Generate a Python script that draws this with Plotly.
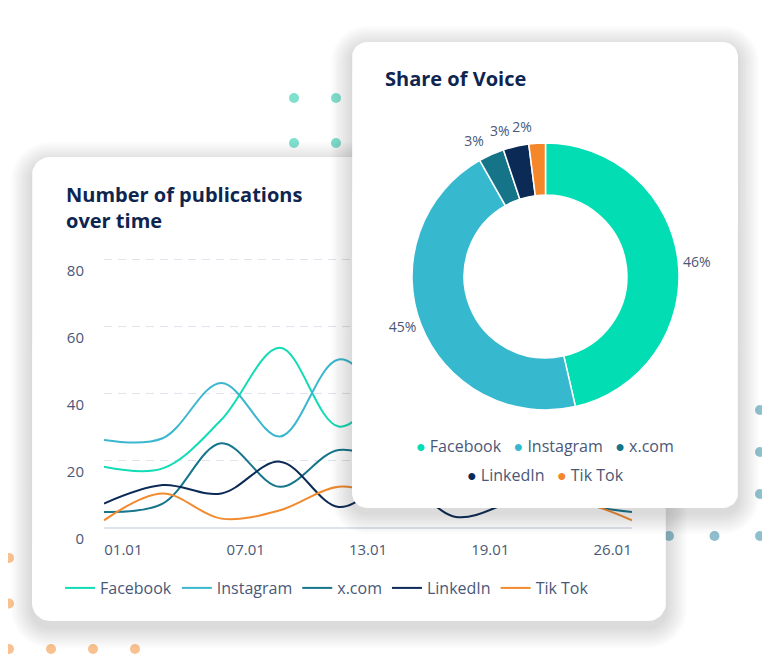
import numpy as np
import plotly.graph_objects as go

W, H = 770, 660          # reference picture size
OFF = 8                  # page body margin, so the figure is drawn 8px smaller
FW, FH = W - OFF, H - OFF
FONT = "Open Sans"
TXT = "#4a5878"
TITLE_C = "#0e2550"

# ---- data ----
platforms = ["Facebook", "Instagram", "x.com", "LinkedIn", "Tik Tok"]
line_colors = ["#12dcb5", "#3ab7cf", "#17768c", "#0c2a56", "#f28a2f"]
pie_colors = ["#02ddb3", "#36b8cf", "#167489", "#0b2a55", "#f5862a"]

facebook = [18, 17.5, 32, 53.5, 30, 42, 36, 48, 40, 30]
instagram = [26, 26.5, 43, 27, 50, 38, 44, 32, 40, 35]
xcom = [4.5, 7, 25, 12, 23, 18, 14, 20, 8, 4.5]
linkedin = [7, 12.5, 10, 19.5, 6, 14, 3, 8, 14, 8]
tiktok = [2, 10, 2.5, 5, 12, 9, 11, 8, 8, 2]
date_labels = ["01.01", "07.01", "13.01", "19.01", "26.01"]
y_ticks = [0, 20, 40, 60, 80]

share = [46.4, 45.4, 3.1, 3.1, 2.0]

series = [facebook, instagram, xcom, linkedin, tiktok]
x_idx = list(range(len(facebook)))

fig = go.Figure()


# picture pixel -> paper
def px(x):
    return (x - OFF) / FW


def py(y):
    return 1 - (y - OFF) / FH


def rrect(x0, y0, x1, y1, r, n=10):
    xs, ys = [], []
    for cx, cy, a0 in [(x1 - r, y0 + r, -90), (x1 - r, y1 - r, 0),
                       (x0 + r, y1 - r, 90), (x0 + r, y0 + r, 180)]:
        a = np.radians(np.linspace(a0, a0 + 90, n))
        xs += list(cx + r * np.cos(a))
        ys += list(cy + r * np.sin(a))
    return xs + xs[:1], ys + ys[:1]


def card(x0, y0, x1, y1, r, ax, ay, dy=6, layers=9):
    # soft shadow from stacked translucent rects, then the white card
    for i in range(layers, 0, -1):
        g = i * 2.3
        xs, ys = rrect(x0 - g, y0 - g + dy, x1 + g, y1 + g + dy, r + g)
        fig.add_trace(go.Scatter(x=xs, y=ys, fill="toself", fillcolor="rgba(30,40,60,0.02)",
                                 mode="lines", line_width=0, hoverinfo="skip",
                                 showlegend=False, xaxis=ax, yaxis=ay))
    xs, ys = rrect(x0, y0, x1, y1, r)
    fig.add_trace(go.Scatter(x=xs, y=ys, fill="toself", fillcolor="white",
                             mode="lines", line_width=0, hoverinfo="skip",
                             showlegend=False, xaxis=ax, yaxis=ay))


# background dots (decoration)
def dots(x0, y0, nx, ny, sx, sy, color):
    gx, gy = np.meshgrid(x0 + sx * np.arange(nx), y0 + sy * np.arange(ny))
    fig.add_trace(go.Scatter(x=gx.ravel(), y=gy.ravel(), mode="markers",
                             marker=dict(size=10, color=color), hoverinfo="skip",
                             showlegend=False, xaxis="x", yaxis="y"))


dots(294, 98, 3, 3, 42, 45, "#7fe0cd")
dots(669, 410, 3, 4, 45.5, 42, "#8fbfcc")
dots(9, 558, 4, 3, 42, 45.5, "#f9c18f")

# card 1 (line chart)
card(32, 157, 666, 621, 18, "x", "y")

# line chart
for name, vals, col in zip(platforms, series, line_colors):
    fig.add_trace(go.Scatter(x=x_idx, y=vals, name=name, mode="lines",
                             line=dict(color=col, width=2, shape="spline", smoothing=1),
                             hoverinfo="skip", xaxis="x2", yaxis="y2"))

# card 2 (donut) above the line chart
card(352, 42, 738, 508, 15, "x3", "y3", dy=5)

cx, cy, R = 545.5, 276.5, 133.5
pie_domain = dict(x=[px(cx - R), px(cx + R)], y=[py(cy + R), py(cy - R)])
G = 7  # small labels sit a little further out
label_domain = dict(x=[px(cx - R - G), px(cx + R + G)], y=[py(cy + R + G), py(cy - R - G)])
n = len(share)
big = [i for i, v in enumerate(share) if v >= 10]
small = [i for i, v in enumerate(share) if v < 10]

fig.add_trace(go.Pie(
    labels=platforms, values=share, hole=0.61, sort=False,
    direction="clockwise", rotation=0,
    marker=dict(colors=pie_colors, line=dict(color="white", width=1.5)),
    textposition=["outside" if i in big else "none" for i in range(n)],
    texttemplate="%{percent:.0%}",
    textfont=dict(size=14, color=TXT, family=FONT),
    domain=pie_domain, showlegend=False, hoverinfo="skip",
))
# small-slice labels each in its own transparent overlay so they are not stacked
for k in small:
    fig.add_trace(go.Pie(
        labels=platforms, values=share, hole=0.61, sort=False,
        direction="clockwise", rotation=0,
        marker=dict(colors=["rgba(0,0,0,0)"] * n, line=dict(color="rgba(0,0,0,0)", width=0)),
        textposition=["outside" if i == k else "none" for i in range(n)],
        texttemplate="%{percent:.0%}",
        textfont=dict(size=14, color=TXT, family=FONT),
        domain=label_domain, showlegend=False, hoverinfo="skip",
    ))


def legend_row(idx):
    return "   ".join(
        f"<span style='font-size:16px;color:{pie_colors[i]}'>●</span> {platforms[i]}" for i in idx)


annotations = [
    dict(text="<b>Number of publications<br>over time</b>", x=px(64), y=py(207),
         xanchor="left", yanchor="middle", align="left",
         font=dict(size=20, color=TITLE_C, family=FONT)),
    dict(text="<b>Share of Voice</b>", x=px(383), y=py(78),
         xanchor="left", yanchor="middle",
         font=dict(size=20, color=TITLE_C, family=FONT)),
    dict(text=legend_row([0, 1, 2]), x=px(545), y=py(446), xanchor="center", yanchor="middle",
         font=dict(size=16, color=TXT, family=FONT)),
    dict(text=legend_row([3, 4]), x=px(545), y=py(475), xanchor="center", yanchor="middle",
         font=dict(size=16, color=TXT, family=FONT)),
]
for a in annotations:
    a.update(xref="paper", yref="paper", showarrow=False)

y_top = 81
px_per_unit = (527 - 259) / 80

hidden = dict(visible=False, fixedrange=True, automargin=False)
fig.update_layout(
    width=FW, height=FH, autosize=False,
    margin=dict(l=0, r=0, t=0, b=0, autoexpand=False),
    paper_bgcolor="white", plot_bgcolor="rgba(0,0,0,0)",
    font=dict(family=FONT, color=TXT),
    xaxis=dict(domain=[0, 1], range=[OFF, W], anchor="y", **hidden),
    yaxis=dict(domain=[0, 1], range=[H, OFF], anchor="x", **hidden),
    xaxis3=dict(domain=[0, 1], range=[OFF, W], anchor="y3", **hidden),
    yaxis3=dict(domain=[0, 1], range=[H, OFF], anchor="x3", **hidden),
    xaxis2=dict(domain=[px(104), px(632)], range=[0, len(x_idx) - 1], anchor="y2",
                tickvals=list(np.linspace(0.33, 8.67, len(date_labels))), ticktext=date_labels,
                showgrid=False, zeroline=False, showline=True, linecolor="#dfe3ec", linewidth=2,
                ticks="", ticklabelstandoff=8, tickfont=dict(size=15, color=TXT),
                fixedrange=True, automargin=False),
    yaxis2=dict(domain=[py(527), py(259 - (y_top - 80) * px_per_unit)], range=[0, y_top],
                tickvals=y_ticks, anchor="x2",
                showgrid=True, gridcolor="#dfe3ec", gridwidth=1, griddash="8px,6px",
                zeroline=False, showline=False, ticks="", ticklabelshift=12,
                ticklabelstandoff=19, tickfont=dict(size=15, color=TXT),
                fixedrange=True, automargin=False),
    legend=dict(orientation="h", x=px(60), y=py(588), xanchor="left", yanchor="middle",
                font=dict(size=16, color=TXT), bgcolor="rgba(0,0,0,0)"),
    annotations=annotations,
)

fig.write_html("out.html")
